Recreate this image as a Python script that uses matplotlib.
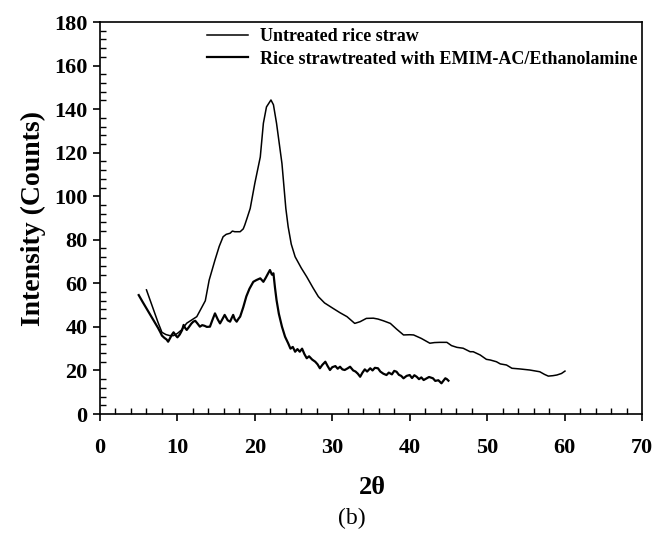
import matplotlib
matplotlib.use("Agg")
import matplotlib.pyplot as plt
from matplotlib.ticker import MultipleLocator

plt.rcParams['font.family'] = ['Liberation Serif', 'DejaVu Serif']
plt.rcParams['font.weight'] = 'bold'

# Untreated rice straw (thin, smooth)
untreated_x = [6.0, 6.5, 7.0, 7.5, 8.0, 8.5, 9.0, 9.5, 10.0, 10.5, 11.2, 12.5, 13.3, 13.6, 14.1,
               14.85, 15.4, 15.9, 16.3, 16.8, 17.1, 17.4, 18.1, 18.5, 18.7, 19.0, 19.4, 20.0,
               20.7, 21.1, 21.5, 22.08, 22.4, 22.8, 23.5, 24.0, 24.3, 24.7, 25.2, 26.0, 26.7,
               27.5, 28.2, 29.0, 30.1, 31.0, 31.9, 32.9, 33.6, 34.4, 35.3, 35.9, 36.6, 37.5,
               38.3, 39.2, 40.0, 40.5, 41.5, 42.6, 43.2, 43.9, 44.8, 45.4, 46.1, 46.9, 47.8,
               48.2, 49.1, 49.9, 50.4, 51.2, 51.7, 52.5, 53.2, 54.2, 55.5, 56.8, 57.4, 57.9,
               58.5, 59.0, 59.6, 60.05]
untreated_y = [57.0, 52.0, 47.0, 42.0, 37.5, 36.5, 36.0, 36.0, 37.0, 38.5, 41.7, 44.7, 50.0, 52.0, 61.5,
               70.7, 77.0, 81.4, 82.5, 83.0, 84.0, 83.7, 83.7, 85.0, 86.8, 90.0, 94.4, 106.0,
               118.0, 133.5, 141.0, 144.2, 142.0, 133.5, 115.0, 94.4, 86.0, 78.0, 72.2, 67.0, 63.0,
               58.0, 53.9, 51.0, 48.5, 46.5, 44.7, 41.6, 42.4, 43.9, 44.0, 43.6, 42.8, 41.6,
               39.0, 36.3, 36.4, 36.3, 34.7, 32.5, 32.8, 32.9, 32.9, 31.4, 30.6, 30.2, 28.6,
               28.6, 27.1, 25.1, 24.8, 24.0, 23.0, 22.5, 21.0, 20.7, 20.2, 19.4, 18.2, 17.4,
               17.6, 17.9, 18.6, 19.7]

# Rice straw treated with EMIM-AC/Ethanolamine (thicker, noisy)
treated_x = [5.0, 5.5, 6.0, 6.5, 7.0, 7.5, 7.8, 8.0, 8.3, 8.6, 8.8, 9.0, 9.3, 9.5, 9.8, 10.0,
             10.3, 10.6, 10.8, 11.0, 11.2, 11.5, 11.8, 12.05, 12.3, 12.6, 12.9, 13.2, 13.5, 13.8,
             14.2, 14.5, 14.85, 15.2, 15.5, 15.8, 16.1, 16.5, 16.8, 17.0, 17.2, 17.4, 17.65, 17.9,
             18.1, 18.5, 18.9, 19.3, 19.8, 20.2, 20.7, 21.1, 21.4, 21.7, 21.95, 22.2, 22.4, 22.6,
             22.8, 23.1, 23.5, 23.9, 24.3, 24.6, 24.9, 25.2, 25.5, 25.8, 26.1, 26.4, 26.7, 27.0,
             27.4, 27.8, 28.1, 28.4, 28.7, 29.1, 29.4, 29.7, 30.0, 30.4, 30.7, 31.0, 31.3, 31.6,
             32.0, 32.3, 32.7, 33.0, 33.3, 33.6, 33.9, 34.2, 34.5, 34.9, 35.2, 35.5, 35.9, 36.2,
             36.6, 37.0, 37.3, 37.7, 38.0, 38.3, 38.6, 38.9, 39.2, 39.6, 40.0, 40.3, 40.6, 40.9,
             41.2, 41.5, 41.8, 42.1, 42.5, 43.0, 43.3, 43.7, 44.1, 44.4, 44.6, 44.8, 45.0]
treated_y = [54.6, 51.5, 48.5, 45.5, 42.5, 39.5, 37.5, 36.0, 35.0, 34.2, 33.2, 34.5, 36.5, 37.5, 36.0, 35.2,
             36.5, 38.5, 40.9, 39.5, 38.6, 40.0, 41.5, 42.4, 42.8, 41.5, 40.1, 40.8, 40.5, 40.0,
             40.1, 43.0, 46.2, 43.5, 41.6, 43.5, 45.5, 43.0, 42.4, 44.0, 45.5, 43.5, 42.4, 43.8,
             44.7, 49.0, 54.0, 57.5, 60.7, 61.5, 62.3, 60.7, 62.5, 64.5, 66.1, 64.0, 64.6, 58.0,
             52.3, 46.0, 40.1, 35.5, 32.5, 30.0, 30.8, 28.6, 29.8, 28.6, 30.0, 27.5, 25.6, 26.5,
             25.0, 24.0, 22.8, 21.0, 22.5, 24.0, 22.0, 20.2, 21.5, 22.0, 20.8, 21.7, 20.5, 20.2,
             21.0, 21.7, 20.0, 19.5, 18.5, 17.1, 19.0, 20.5, 19.5, 21.0, 20.0, 21.2, 21.0, 19.5,
             18.5, 17.9, 19.0, 18.2, 19.8, 19.4, 18.0, 17.5, 16.4, 17.5, 17.9, 16.5, 17.8, 17.1,
             16.0, 16.8, 15.6, 16.2, 17.0, 16.4, 15.2, 15.5, 14.1, 15.5, 16.4, 16.0, 15.3]

labels = ["Untreated rice straw", "Rice strawtreated with EMIM-AC/Ethanolamine"]

fig = plt.figure(figsize=(6.57, 5.36), dpi=100)
ax = fig.add_axes([100/657, 122/536, 542/657, 392/536])

ax.plot(untreated_x, untreated_y, color='black', lw=1.1, label=labels[0])
ax.plot(treated_x, treated_y, color='black', lw=1.6, label=labels[1])

ax.set_xlim(0, 70)
ax.set_ylim(0, 180)
ax.xaxis.set_major_locator(MultipleLocator(10))
ax.xaxis.set_minor_locator(MultipleLocator(2))
ax.yaxis.set_major_locator(MultipleLocator(20))
ax.yaxis.set_minor_locator(MultipleLocator(4))
ax.tick_params(which='major', direction='out', length=5, width=1.2, labelsize=16)
ax.tick_params(which='minor', direction='in', length=4, width=1.0)
ax.tick_params(axis='x', which='major', pad=12)
ax.tick_params(axis='y', which='major', pad=4)
for s in ax.spines.values():
    s.set_linewidth(1.2)

ax.set_ylabel("Intensity (Counts)", fontsize=20, fontweight='bold', labelpad=6)
fig.text(372/657, 1 - 488/536, "2θ", fontsize=19, fontweight='bold', ha='center', va='center')
fig.text(352/657, 1 - 518/536, "(b)", fontsize=17, fontweight='normal', ha='center', va='center')

leg = ax.legend(loc='upper left', bbox_to_anchor=(0.197, 0.985), frameon=False,
                borderpad=0, borderaxespad=0, handlelength=2.3, handletextpad=0.65,
                labelspacing=0.32, prop={'size': 13.0, 'weight': 'bold'})

fig.savefig("out.png", dpi=100)
